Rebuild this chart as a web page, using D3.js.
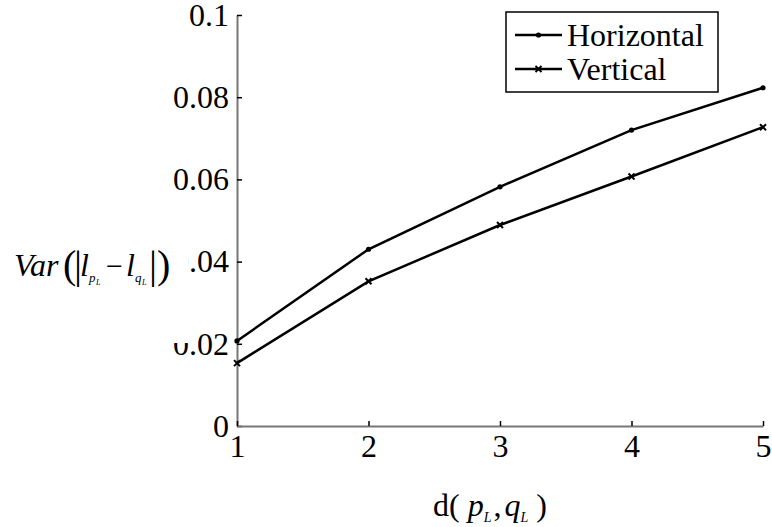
<!DOCTYPE html>
<html>
<head>
<meta charset="utf-8">
<script src="https://cdn.jsdelivr.net/npm/d3@7"></script>
<style>
  html, body { margin: 0; padding: 0; background: #fff; }
  svg { display: block; font-family: 'Liberation Serif', 'Times New Roman', serif; }
</style>
</head>
<body>
<svg id="chart"></svg>
<script>
const distances = [1, 2, 3, 4, 5]
const horizontal = [0.0207, 0.0430, 0.0582, 0.0720, 0.0823]
const vertical = [0.0153, 0.0352, 0.0489, 0.0607, 0.0727]
const yTicks = [0, 0.02, 0.04, 0.06, 0.08, 0.1]
const yTickLabels = ['0', '0.02', '0.04', '0.06', '0.08', '0.1']
const seriesNames = ['Horizontal', 'Vertical']

const width = 772
const height = 527
const margin = { top: 15, right: 9, bottom: 101, left: 237 }
const innerWidth = width - margin.left - margin.right
const innerHeight = height - margin.top - margin.bottom
const serif = 'Liberation Serif'

const svg = d3.select('#chart')
  .attr('width', width)
  .attr('height', height)
  .attr('font-family', serif)

const g = svg.append('g')
  .attr('transform', `translate(${margin.left},${margin.top})`)

const xScale = d3.scaleLinear()
  .domain([1, 5])
  .range([0, innerWidth])

const yScale = d3.scaleLinear()
  .domain([0, 0.1])
  .range([innerHeight, 0])

// Axes (ticks point inward, as in MATLAB)
const yAxis = g.append('g')
  .call(d3.axisLeft(yScale)
    .tickValues(yTicks)
    .tickFormat((d, i) => yTickLabels[i])
    .tickSize(-5)
    .tickSizeOuter(0)
    .tickPadding(8))
  .attr('font-family', serif)
yAxis.select('.domain').attr('stroke', '#777').attr('stroke-width', 2)
yAxis.selectAll('.tick line').attr('stroke', '#000').attr('stroke-width', 1.5)
yAxis.selectAll('.tick text')
  .attr('font-size', 32)
  .attr('fill', '#000')
  .attr('dy', '0.32em')

const xAxis = g.append('g')
  .attr('transform', `translate(0,${innerHeight})`)
  .call(d3.axisBottom(xScale)
    .tickValues(distances)
    .tickFormat(d3.format('d'))
    .tickSize(-5)
    .tickSizeOuter(0)
    .tickPadding(8))
  .attr('font-family', serif)
xAxis.select('.domain').attr('stroke', '#777').attr('stroke-width', 2)
xAxis.selectAll('.tick line').attr('stroke', '#000').attr('stroke-width', 1.5)
xAxis.selectAll('.tick text')
  .attr('font-size', 32)
  .attr('fill', '#000')
  .attr('dy', '0.72em')

// Lines
const series = [
  { name: seriesNames[0], values: horizontal, marker: 'dot' },
  { name: seriesNames[1], values: vertical, marker: 'cross' }
]

const line = d3.line()
  .x((d, i) => xScale(distances[i]))
  .y(d => yScale(d))

const drawMarker = (sel, type, cx, cy) => {
  if (type === 'dot') {
    sel.append('circle')
      .attr('cx', cx).attr('cy', cy).attr('r', 2.6)
      .attr('fill', '#000')
  } else {
    const s = 3
    sel.append('path')
      .attr('d', `M${cx - s},${cy - s}L${cx + s},${cy + s}M${cx - s},${cy + s}L${cx + s},${cy - s}`)
      .attr('stroke', '#000')
      .attr('stroke-width', 2)
  }
}

series.forEach(s => {
  g.append('path')
    .datum(s.values)
    .attr('d', line)
    .attr('fill', 'none')
    .attr('stroke', '#000')
    .attr('stroke-width', 2.5)
  const mg = g.append('g')
  s.values.forEach((v, i) => drawMarker(mg, s.marker, xScale(distances[i]), yScale(v)))
})

// Y label (pasted image with white background covering part of the tick labels)
const yl = svg.append('g')
yl.append('rect')
  .attr('x', 0).attr('y', 205)
  .attr('width', 188).attr('height', 138)
  .attr('fill', '#fff')
const ylText = (x, y, txt, size, italic) => yl.append('text')
  .attr('x', x).attr('y', y)
  .attr('font-size', size)
  .attr('font-style', italic ? 'italic' : 'normal')
  .attr('fill', '#000')
  .text(txt)
ylText(14, 276, 'Var', 32, true)
ylText(63, 278, '(', 40, false)
ylText(74, 278, '|', 40, false)
ylText(80, 276, 'l', 32, true)
ylText(89, 282, 'p', 13, true)
ylText(96, 285, 'L', 8, true)
ylText(106, 276, '\u2212', 30, false)
ylText(126, 276, 'l', 32, true)
ylText(135, 282, 'q', 13, true)
ylText(142, 285, 'L', 8, true)
ylText(149, 278, '|', 40, false)
ylText(157, 278, ')', 40, false)

// X label
const xl = svg.append('text')
  .attr('x', 433).attr('y', 516)
  .attr('font-size', 32)
  .attr('fill', '#000')
xl.append('tspan').text('d( ')
xl.append('tspan').attr('font-style', 'italic').text('p')
xl.append('tspan').attr('font-style', 'italic').attr('font-size', 14).attr('dy', 6).text('L')
xl.append('tspan').attr('dy', -6).attr('dx', 2).text(',')
xl.append('tspan').attr('font-style', 'italic').attr('dx', 3).text('q')
xl.append('tspan').attr('font-style', 'italic').attr('font-size', 14).attr('dy', 6).text('L')
xl.append('tspan').attr('dy', -6).text(' )')

// Legend
const legend = svg.append('g')
legend.append('rect')
  .attr('x', 506).attr('y', 12)
  .attr('width', 212).attr('height', 80)
  .attr('fill', '#fff')
  .attr('stroke', '#000')
  .attr('stroke-width', 1.5)
series.forEach((s, i) => {
  const cy = 35 + i * 34
  legend.append('line')
    .attr('x1', 515).attr('x2', 562)
    .attr('y1', cy).attr('y2', cy)
    .attr('stroke', '#000')
    .attr('stroke-width', 2.5)
  drawMarker(legend, s.marker, 538.5, cy)
  legend.append('text')
    .attr('x', 567).attr('y', cy)
    .attr('dy', '0.34em')
    .attr('font-size', 32)
    .attr('fill', '#000')
    .text(s.name)
})
</script>
</body>
</html>
